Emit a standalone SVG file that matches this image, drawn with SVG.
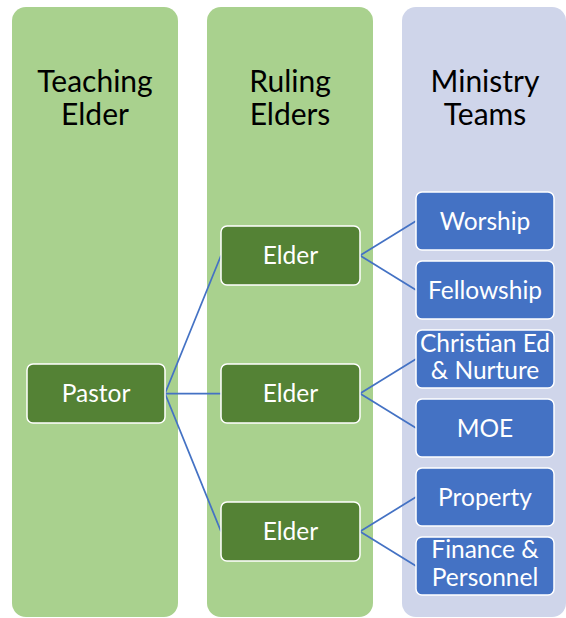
<svg xmlns="http://www.w3.org/2000/svg" width="566" height="618" viewBox="0 0 566 618">
<style>
.col-g{fill:#A9D18E;}
.col-b{fill:#CFD5EA;}
.hdr{font-family:Lato,"Liberation Sans",sans-serif;font-size:30px;fill:#000;text-anchor:middle;}
.elder{fill:#548235;stroke:#fff;stroke-width:1.5;}
.team{fill:#4472C4;stroke:#fff;stroke-width:1.5;}
.lbl{font-family:Lato,"Liberation Sans",sans-serif;font-size:24.5px;fill:#fff;text-anchor:middle;}
.conn{stroke:#4472C4;stroke-width:1.75;fill:none;}
</style>
<rect width="566" height="618" fill="#fff"/>
<g id="col-teaching">
<rect class="col-g" x="12" y="7" width="166" height="610" rx="14"/>
<text class="hdr" x="95" y="92">Teaching</text>
<text class="hdr" x="95" y="125">Elder</text>
</g>
<g id="col-ruling">
<rect class="col-g" x="207" y="7" width="166" height="610" rx="14"/>
<text class="hdr" x="290" y="92">Ruling</text>
<text class="hdr" x="290" y="125">Elders</text>
</g>
<g id="col-ministry">
<rect class="col-b" x="402" y="7" width="164" height="610" rx="14"/>
<text class="hdr" x="485" y="92">Ministry</text>
<text class="hdr" x="485" y="125">Teams</text>
</g>
<g id="connectors">
<line class="conn" x1="165" y1="393.5" x2="221" y2="255.5"/>
<line class="conn" x1="165" y1="393.5" x2="221" y2="393.5"/>
<line class="conn" x1="165" y1="393.5" x2="221" y2="531.5"/>
<line class="conn" x1="360" y1="255.5" x2="416" y2="221"/>
<line class="conn" x1="360" y1="255.5" x2="416" y2="290"/>
<line class="conn" x1="360" y1="393.5" x2="416" y2="359"/>
<line class="conn" x1="360" y1="393.5" x2="416" y2="428"/>
<line class="conn" x1="360" y1="531.5" x2="416" y2="497"/>
<line class="conn" x1="360" y1="531.5" x2="416" y2="566"/>
</g>
<g id="pastor">
<rect class="elder" x="27" y="364" width="138" height="59" rx="6"/>
<text class="lbl" x="96" y="401.5">Pastor</text>
</g>
<g id="elder1">
<rect class="elder" x="221" y="226" width="139" height="59" rx="6"/>
<text class="lbl" x="290.5" y="263.5">Elder</text>
</g>
<g id="elder2">
<rect class="elder" x="221" y="364" width="139" height="59" rx="6"/>
<text class="lbl" x="290.5" y="401.5">Elder</text>
</g>
<g id="elder3">
<rect class="elder" x="221" y="502" width="139" height="59" rx="6"/>
<text class="lbl" x="290.5" y="539.5">Elder</text>
</g>
<g id="worship">
<rect class="team" x="416" y="192" width="138" height="58" rx="6"/>
<text class="lbl" x="485" y="229.5">Worship</text>
</g>
<g id="fellowship">
<rect class="team" x="416" y="261" width="138" height="58" rx="6"/>
<text class="lbl" x="485" y="298.5">Fellowship</text>
</g>
<g id="christian-ed">
<rect class="team" x="416" y="330" width="138" height="58" rx="6"/>
<text class="lbl" x="485" y="352">Christian Ed</text>
<text class="lbl" x="485" y="379">&amp; Nurture</text>
</g>
<g id="moe">
<rect class="team" x="416" y="399" width="138" height="58" rx="6"/>
<text class="lbl" x="485" y="436.5">MOE</text>
</g>
<g id="property">
<rect class="team" x="416" y="468" width="138" height="58" rx="6"/>
<text class="lbl" x="485" y="505.5">Property</text>
</g>
<g id="finance">
<rect class="team" x="416" y="537" width="138" height="58" rx="6"/>
<text class="lbl" x="485" y="558">Finance &amp;</text>
<text class="lbl" x="485" y="586">Personnel</text>
</g>
</svg>
